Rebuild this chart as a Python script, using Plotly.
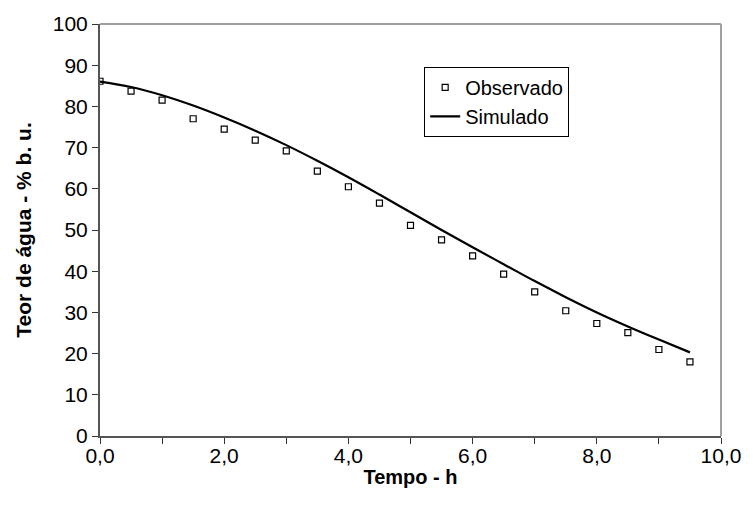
import plotly.graph_objects as go

tempo_obs = [0.0, 0.5, 1.0, 1.5, 2.0, 2.5, 3.0, 3.5, 4.0, 4.5,
             5.0, 5.5, 6.0, 6.5, 7.0, 7.5, 8.0, 8.5, 9.0, 9.5]
observado = [86.1, 83.7, 81.5, 77.0, 74.5, 71.8, 69.2, 64.3, 60.5, 56.5,
             51.1, 47.6, 43.7, 39.3, 35.0, 30.4, 27.3, 25.1, 21.0, 18.0]

tempo_sim = [0.0, 0.5, 1.0, 1.5, 2.0, 2.5, 3.0, 3.5, 4.0, 4.5,
             5.0, 5.5, 6.0, 6.5, 7.0, 7.5, 8.0, 8.5, 9.0, 9.5]
simulado = [86.0, 84.7, 82.7, 80.2, 77.3, 74.1, 70.6, 66.8, 62.8, 58.6,
            54.3, 50.0, 45.8, 41.7, 37.6, 33.7, 30.0, 26.6, 23.4, 20.3]

x_tickvals = [0, 1, 2, 3, 4, 5, 6, 7, 8, 9, 10]
x_ticktext = ["0,0", "", "2,0", "", "4,0", "", "6,0", "", "8,0", "", "10,0"]
y_tickvals = [0, 10, 20, 30, 40, 50, 60, 70, 80, 90, 100]

font = "Liberation Sans, Arial, sans-serif"

fig = go.Figure()
fig.add_trace(go.Scatter(
    x=tempo_obs, y=observado, mode="markers", name="Observado",
    marker=dict(symbol="square-open", size=6, color="black", line=dict(width=1.2, color="black")),
))
fig.add_trace(go.Scatter(
    x=tempo_sim, y=simulado, mode="lines", name="Simulado",
    line=dict(color="black", width=2.2, shape="spline"),
))

fig.update_layout(
    width=753, height=520,
    margin=dict(l=100, r=25, t=24, b=84),
    paper_bgcolor="white", plot_bgcolor="white",
    font=dict(family=font, size=21, color="black"),
    showlegend=True,
    legend=dict(
        x=0.522, y=0.896, xanchor="left", yanchor="top",
        bordercolor="black", borderwidth=1, bgcolor="white",
        font=dict(size=20), tracegroupgap=0, itemwidth=30,
    ),
    shapes=[
        dict(type="line", xref="paper", yref="paper", x0=0, x1=1, y0=1, y1=1,
             line=dict(color="#a0a0a0", width=2)),
        dict(type="line", xref="paper", yref="paper", x0=1, x1=1, y0=0, y1=1,
             line=dict(color="#a0a0a0", width=2)),
    ],
)

fig.update_xaxes(
    range=[0, 10], tickvals=x_tickvals, ticktext=x_ticktext,
    showgrid=False, zeroline=False,
    showline=True, linecolor="#555555", linewidth=2,
    ticks="outside", ticklen=6, tickcolor="#333333", tickwidth=1,
    tickfont=dict(size=21), ticklabelstandoff=-6,
    title=dict(text="<b>Tempo - h</b>", font=dict(size=20), standoff=4),
)
fig.update_yaxes(
    range=[0, 100], tickvals=y_tickvals,
    showgrid=False, zeroline=False,
    showline=True, linecolor="#555555", linewidth=2,
    ticks="outside", ticklen=6, tickcolor="#333333", tickwidth=1,
    tickfont=dict(size=21),
    title=dict(text="<b>Teor de água - % b. u.</b>", font=dict(size=21), standoff=15),
)

fig.write_html("out.html")
